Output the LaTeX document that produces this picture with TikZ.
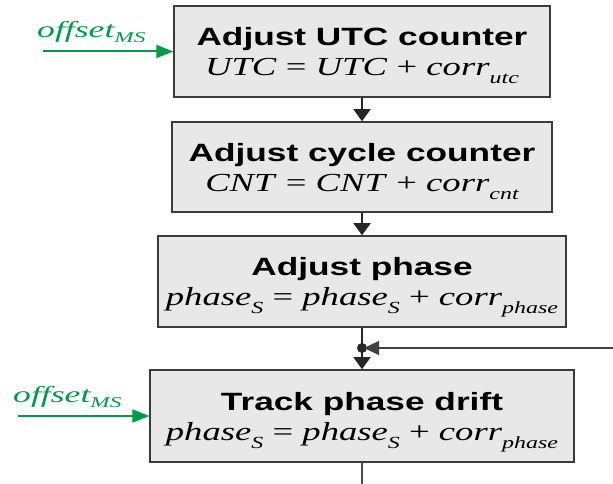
\documentclass[tikz,border=0pt]{standalone}
\usepackage{fontspec}
\setmainfont{Liberation Serif}[FakeStretch=1.41]
\newfontfamily\titlefont{Liberation Sans}[FakeStretch=1.41]
\newfontfamily\grnfont{Liberation Serif}[FakeStretch=1.55]
\usetikzlibrary{arrows.meta,calc}
\definecolor{boxfill}{RGB}{232,232,232}
\definecolor{boxdraw}{RGB}{60,60,60}
\definecolor{grn}{RGB}{0,155,72}
\newcommand\sbs[1]{\raisebox{-8pt}{\fontsize{17}{17}\selectfont\itshape #1}}
\newcommand\gsbs[1]{\raisebox{-5pt}{\fontsize{15}{15}\selectfont\itshape #1}}
\newcommand\ttl[1]{\rule{0pt}{32pt}{\fontsize{25}{25}\selectfont\titlefont\bfseries #1}}
\newcommand\frm[1]{\rule[-13pt]{0pt}{13pt}{\fontsize{26}{26}\selectfont #1}}
\begin{document}
\begin{tikzpicture}[x=1pt,y=1pt,
 procbox/.style={draw=boxdraw, fill=boxfill, line width=1.5pt, align=center, inner sep=0pt, font=\fontsize{26}{30}\selectfont},
 plain/.style={draw=black!85, line width=1.5pt},
 flow/.style={plain, -{Triangle[length=12pt,width=17pt]}},
 fb/.style={draw=black!75, line width=1.2pt, -{Triangle[length=15pt,width=14pt]}, shorten >=2pt},
 inflow/.style={draw=grn, line width=2pt, -{Triangle[length=17pt,width=13pt]}},
 inlabel/.style={text=grn, inner sep=0pt, anchor=base west, font=\fontsize{23}{23}\selectfont\grnfont\itshape},
 ]
\useasboundingbox (0,0) rectangle (613,484);
\node[procbox, minimum width=376pt, minimum height=91pt] (b1) at (362,432.5)
  {\ttl{Adjust UTC counter}\\\frm{\textit{UTC} = \textit{UTC} + \textit{corr}\sbs{utc}}};
\node[procbox, minimum width=380pt, minimum height=90pt] (b2) at (362,317)
  {\ttl{Adjust cycle counter}\\\frm{\textit{CNT} = \textit{CNT} + \textit{corr}\sbs{cnt}}};
\node[procbox, minimum width=408pt, minimum height=91pt] (b3) at (362,202.5)
  {\ttl{Adjust phase}\\\frm{\textit{phase}\sbs{S} = \textit{phase}\sbs{S} + \textit{corr}\sbs{phase}}};
\node[procbox, minimum width=424pt, minimum height=92pt] (b4) at (362,68)
  {\ttl{Track phase drift}\\\frm{\textit{phase}\sbs{S} = \textit{phase}\sbs{S} + \textit{corr}\sbs{phase}}};

\draw[flow] (b1.south) -- (b2.north);
\draw[flow] (b2.south) -- (b3.north);
\coordinate (j) at (362,136);
\coordinate (fr) at (613,136);
\draw[plain] (b3.south) -- (j);
\draw[flow] (j) -- (b4.north);
\fill[black!85] (j) circle (5);
\draw[fb] (fr) -- (j);
\coordinate (bot) at (362,0);
\draw[draw=black!70, line width=1.2pt] (b4.south) -- (bot);

\node[inlabel] (o1) at (37,446) {offset\gsbs{MS}};
\coordinate (t1) at (43,432.5);
\draw[inflow] (t1) -- (b1.west);
\node[inlabel] (o4) at (13,81) {offset\gsbs{MS}};
\coordinate (t4) at (18,68);
\draw[inflow] (t4) -- (b4.west);
\end{tikzpicture}
\end{document}
